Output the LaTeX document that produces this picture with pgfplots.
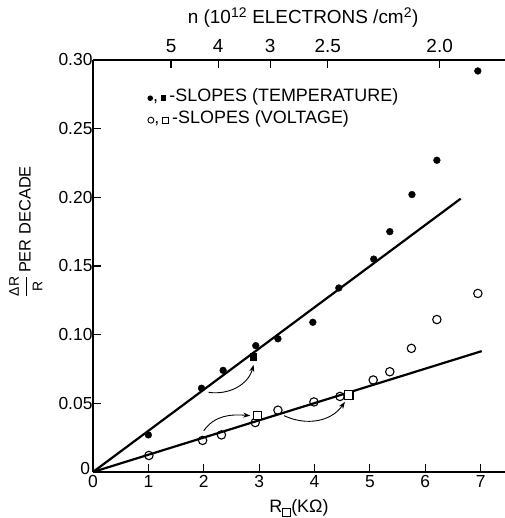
\documentclass[border=0pt]{standalone}
\usepackage{pgfplots}
\pgfplotsset{compat=1.18}
\usepackage{fontspec}
\setmainfont{Liberation Sans}
\usetikzlibrary{arrows.meta}
\newsavebox\fcirc \newsavebox\fsq \newsavebox\ocirc \newsavebox\osq \newsavebox\subsq
\begin{document}%
\sbox\fcirc{\tikz[baseline=-3.5bp]\fill (0,0) circle (2.8bp);}%
\sbox\fsq{\tikz[baseline=-3.5bp]\fill (-2.7bp,-2.7bp) rectangle (2.7bp,2.7bp);}%
\sbox\ocirc{\tikz[baseline=-3.5bp]\draw[line width=0.9bp] (0,0) circle (3bp);}%
\sbox\osq{\tikz[baseline=-3.5bp]\draw[line width=0.9bp] (-3bp,-3bp) rectangle (3bp,3bp);}%
\sbox\subsq{\tikz[baseline=4bp]\draw[line width=0.9bp] (0,0) rectangle (8bp,8bp);}%
\begin{tikzpicture}
\pgfplotsset{common/.style={
  width=412bp, height=412bp, scale only axis,
  xmin=0, xmax=7.44, ymin=0, ymax=0.30, clip=false,
  axis line style={line width=1.2bp,-},
  tick style={line width=1.2bp, black},
  major tick length=8bp, tick align=inside,
  /pgf/number format/assume math mode=true,
  tick label style={font=\fontsize{17.5}{17.5}\selectfont},
  label style={font=\fontsize{18}{18}\selectfont},
}}
\begin{axis}[common,
  axis x line*=bottom, axis y line*=left,
  xtick={0,1,2,3,4,5,6,7},
  xticklabels={0,1,2,3,4,5,6,7},
  ytick={0,0.05,0.10,0.15,0.20,0.25,0.30},
  yticklabels={,0.05,0.10,0.15,0.20,0.25,0.30},
  yticklabel style={xshift=3bp},
  xlabel={R\usebox\subsq(KΩ)},
  xlabel style={at={(axis description cs:0.5,-0.087)}, anchor=center},
]
% fit lines
\addplot[line width=2.2bp, black] coordinates {(0,0) (6.64,0.199)};
\addplot[line width=2.2bp, black] coordinates {(0,0) (7.02,0.088)};
% temperature slopes (filled circles)
\addplot[only marks, mark=*, mark size=3.4bp, black] coordinates {
  (1.0,0.027) (1.96,0.061) (2.35,0.074) (2.94,0.092) (3.34,0.097) (3.97,0.109)
  (4.44,0.134) (5.07,0.155) (5.36,0.175) (5.76,0.202) (6.21,0.227) (6.95,0.292)};
% temperature (filled square)
\addplot[only marks, mark=square*, mark size=3.2bp, black] coordinates {(2.89,0.084)};
% voltage slopes (open circles)
\addplot[only marks, mark=o, mark size=4.2bp, line width=1.1bp, black, mark options={fill=white}] coordinates {
  (1.01,0.012) (1.98,0.023) (2.32,0.027) (2.93,0.036) (3.34,0.045) (3.99,0.051)
  (4.46,0.055) (5.06,0.067) (5.36,0.073) (5.75,0.090) (6.21,0.111) (6.95,0.130)};
% voltage (open squares)
\addplot[only marks, mark=square*, mark size=4.2bp, line width=1.1bp, black, mark options={fill=white}] coordinates {(2.97,0.041) (4.62,0.056)};
% arrows
\draw[line width=0.9bp, -{Stealth[length=7bp,width=5bp]}] (axis cs:2.09,0.058) to[out=-8,in=-105] (axis cs:2.90,0.078);
\draw[line width=0.9bp, -{Stealth[length=7bp,width=5bp]}] (axis cs:2.0,0.030) to[out=55,in=175] (axis cs:2.84,0.041);
\draw[line width=0.9bp, -{Stealth[length=7bp,width=5bp]}] (axis cs:3.45,0.041) to[out=-25,in=-125] (axis cs:4.55,0.051);
% y tick label 0, set slightly above the x axis as in the original
\node[anchor=east, font=\fontsize{17.5}{17.5}\selectfont, inner sep=0pt] at (axis cs:-0.05,0.0025) {0};
% legend
\node[anchor=west, font=\fontsize{18}{18}\selectfont, inner sep=0pt] at (axis cs:0.98,0.273)
  {\usebox\fcirc,\,\usebox\fsq\,-SLOPES (TEMPERATURE)};
\node[anchor=west, font=\fontsize{18}{18}\selectfont, inner sep=0pt] at (axis cs:0.98,0.257)
  {\usebox\ocirc,\,\usebox\osq\,-SLOPES (VOLTAGE)};
% y label
\node[rotate=90, font=\fontsize{16.5}{16.5}\selectfont, inner sep=0pt] at (rel axis cs:-0.163,0.583)
  {$\displaystyle\frac{\hbox{\fontsize{14}{14}\selectfont ΔR}}{\hbox{\fontsize{14}{14}\selectfont R}}$\,PER DECADE};
\coordinate (bbll) at (rel axis cs:-0.2257,-0.1117);
\coordinate (bbur) at (rel axis cs:1,1.1456);
\end{axis}
\begin{axis}[common,
  axis x line*=top, axis y line=none,
  xtick={1.41,2.26,3.2,4.24,6.26},
  xticklabels={5,4,3,2.5,2.0},
  xticklabel style={font=\fontsize{19}{19}\selectfont, yshift=4bp},
  xlabel={n (10\textsuperscript{\fontsize{14}{14}\selectfont 12} ELECTRONS /cm\textsuperscript{\fontsize{14}{14}\selectfont 2})},
  xlabel style={font=\fontsize{19}{19}\selectfont, at={(axis description cs:0.51,1.102)}, anchor=center},
]
\end{axis}
\pgfresetboundingbox
\useasboundingbox (bbll) rectangle (bbur);
\end{tikzpicture}%
\end{document}
